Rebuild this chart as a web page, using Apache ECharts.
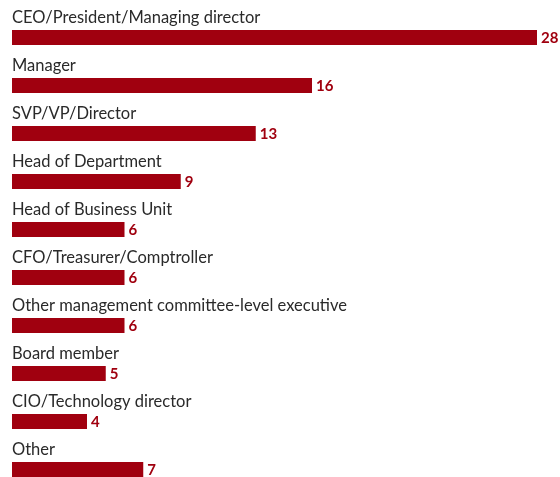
<!DOCTYPE html>
<html><head><meta charset="utf-8">
<script src="https://cdn.jsdelivr.net/npm/echarts@6/dist/echarts.min.js"></script>
<style>html,body{margin:0;padding:0;background:#fff}#c{width:560px;height:477px}</style>
</head><body><div id="c"></div>
<script>
const categories = ["CEO/President/Managing director","Manager","SVP/VP/Director","Head of Department","Head of Business Unit","CFO/Treasurer/Comptroller","Other management committee-level executive","Board member","CIO/Technology director","Other"];
const values = [28,16,13,9,6,6,6,5,4,7];
const chart = echarts.init(document.getElementById('c'), null, {renderer:'canvas'});
chart.setOption({
  animation:false,
  grid:{left:12, right:23, top:37.5, bottom:7.5},
  xAxis:{type:'value', min:0, max:28, show:false},
  yAxis:{type:'category', data:categories, inverse:true, boundaryGap:false,
    axisLine:{show:false}, axisTick:{show:false}, splitLine:{show:false},
    axisLabel:{inside:true, margin:0, align:'left', verticalAlign:'bottom', padding:[0,0,11,0],
      fontFamily:'Lato', fontSize:16.5, color:'#2a2a2a'}},
  series:[{type:'bar', data:values, barWidth:15, itemStyle:{color:'#a0000f'},
    label:{show:true, position:'right', distance:4, offset:[0,1], fontFamily:'Lato', fontWeight:'bold', fontSize:15, color:'#a0000f'}}]
});
</script></body></html>
